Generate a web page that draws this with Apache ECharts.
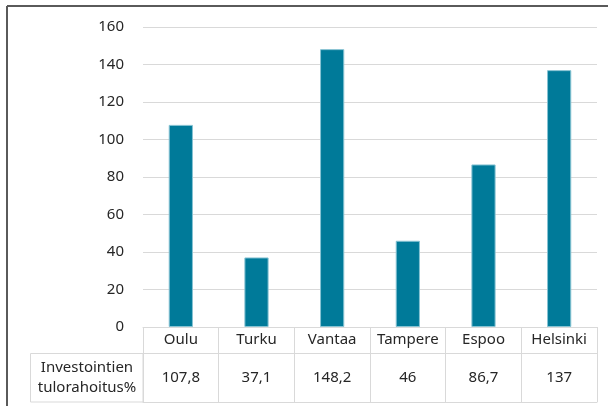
<!DOCTYPE html>
<html style="height: 100%">
<head>
    <meta charset="utf-8">
    <title>Investointien tulorahoitus%</title>
</head>
<body style="height: 100%; margin: 0; background: #fff">
<div id="container" style="width: 608px; height: 406px"></div>
<script type="text/javascript" src="https://cdn.jsdelivr.net/npm/echarts@6/dist/echarts.min.js"></script>
<script type="text/javascript">
    // data
    var cities = ['Oulu', 'Turku', 'Vantaa', 'Tampere', 'Espoo', 'Helsinki'];
    var tulorahoitus = [107.8, 37.1, 148.2, 46, 86.7, 137];
    var seriesName = 'Investointien\ntulorahoitus%';

    var font = 'Noto Sans';
    var textColor = '#262626';
    var tableLine = '#d9d9d9';

    var dom = document.getElementById('container');
    var myChart = echarts.init(dom);

    var option = {
        animation: false,
        grid: { left: 143, right: 11, top: 27, bottom: 79 },
        xAxis: [
            {
                // category row of the data table
                type: 'category',
                data: cities,
                position: 'bottom',
                axisLine: { show: true, lineStyle: { color: tableLine, width: 1 } },
                axisTick: { show: true, interval: 0, length: 75, lineStyle: { color: tableLine } },
                axisLabel: { interval: 0, margin: 5, fontSize: 15, fontFamily: font, color: textColor }
            },
            {
                // value row
                type: 'category',
                data: cities,
                position: 'bottom',
                offset: 26,
                axisLine: { show: true, lineStyle: { color: tableLine, width: 1 } },
                axisTick: { show: false },
                axisLabel: {
                    interval: 0, margin: 17, fontSize: 15, fontFamily: font, color: textColor,
                    formatter: function (v, i) {
                        return String(tulorahoitus[i]).replace('.', ',');
                    }
                }
            },
            {
                // bottom edge of the table
                type: 'category',
                data: cities,
                position: 'bottom',
                offset: 75,
                axisLine: { show: true, lineStyle: { color: tableLine, width: 1 } },
                axisTick: { show: false },
                axisLabel: { show: false }
            }
        ],
        yAxis: {
            type: 'value',
            min: 0,
            max: 160,
            interval: 20,
            axisLine: { show: false },
            axisTick: { show: false },
            axisLabel: { margin: 19, fontSize: 15, fontFamily: font, color: textColor },
            splitLine: { lineStyle: { color: '#d9d9d9' } }
        },
        series: [
            {
                name: seriesName,
                type: 'bar',
                xAxisIndex: 0,
                data: tulorahoitus,
                barWidth: '32%',
                itemStyle: { color: '#007a99', borderColor: '#86c3d3', borderWidth: 1 }
            }
        ],
        graphic: [
            // outer frame (left and top edges)
            { type: 'line', shape: { x1: 7, y1: 6, x2: 608, y2: 6 }, style: { stroke: '#5a5a5a', lineWidth: 2 } },
            { type: 'line', shape: { x1: 7, y1: 6, x2: 7, y2: 406 }, style: { stroke: '#5a5a5a', lineWidth: 2 } },
            // legend cell of the data table
            {
                type: 'rect',
                shape: { x: 30.5, y: 353.5, width: 112.5, height: 48.5 },
                style: { fill: 'none', stroke: tableLine, lineWidth: 1 }
            },
            {
                type: 'text',
                x: 87,
                y: 378,
                style: {
                    text: seriesName,
                    align: 'center',
                    verticalAlign: 'middle',
                    fontSize: 15,
                    lineHeight: 20,
                    fontFamily: font,
                    fill: textColor
                }
            }
        ]
    };

    if (option && typeof option === 'object') {
        myChart.setOption(option, true);
    }
</script>
</body>
</html>
